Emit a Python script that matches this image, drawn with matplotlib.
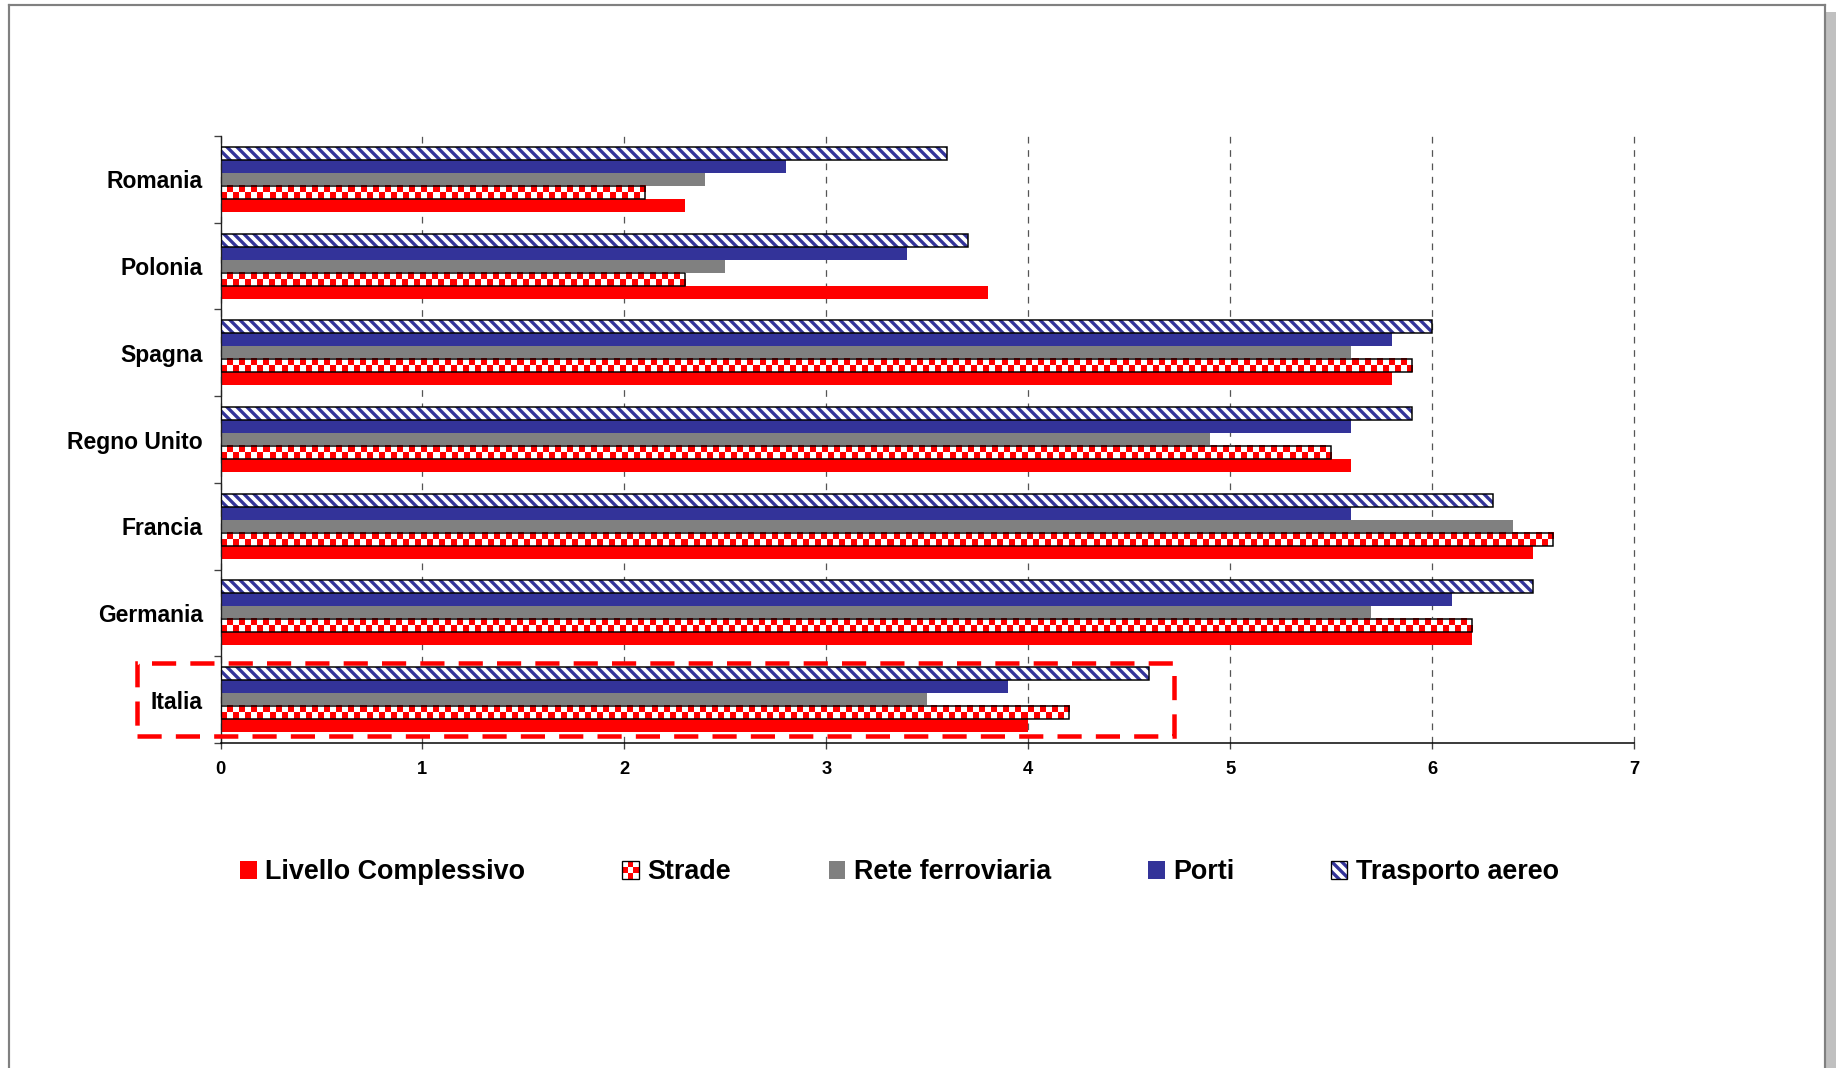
import numpy as np
import matplotlib
matplotlib.use("Agg")
import matplotlib.pyplot as plt
from matplotlib.patches import Rectangle
from matplotlib.lines import Line2D

# ---- data -------------------------------------------------------------
countries = ["Italia", "Germania", "Francia", "Regno Unito", "Spagna", "Polonia", "Romania"]
series_names = ["Livello Complessivo", "Strade", "Rete ferroviaria", "Porti", "Trasporto aereo"]
livello = [4.0, 6.2, 6.5, 5.6, 5.8, 3.8, 2.3]
strade = [4.2, 6.2, 6.6, 5.5, 5.9, 2.3, 2.1]
ferrovie = [3.5, 5.7, 6.4, 4.9, 5.6, 2.5, 2.4]
porti = [3.9, 6.1, 5.6, 5.6, 5.8, 3.4, 2.8]
aereo = [4.6, 6.5, 6.3, 5.9, 6.0, 3.7, 3.6]
x_ticks = [0, 1, 2, 3, 4, 5, 6, 7]

RED = "#FF0000"
NAVY = "#333399"
GREY = "#808080"
STRIPES = "\\" * 4

W, H = 1838, 1068
DPI = 120
plt.rcParams["font.family"] = ["Liberation Sans", "DejaVu Sans"]
plt.rcParams["font.weight"] = "bold"
plt.rcParams["hatch.linewidth"] = 2.0
plt.rcParams["lines.scale_dashes"] = False

fig = plt.figure(figsize=(W / DPI, H / DPI), dpi=DPI)
fig.patch.set_facecolor("white")


def fx(x):
    return x / W


def fy(y):
    return 1 - y / H


ax = fig.add_axes([fx(220.5), fy(743), fx(1634) - fx(220.5), fy(136) - fy(743)])

y = np.arange(len(countries))
bh = 0.15
offsets = [-0.30, -0.15, 0.0, 0.15, 0.30]

# solid bars
ax.barh(y + offsets[0], livello, height=bh, color=RED, linewidth=0, zorder=2)
ax.barh(y + offsets[2], ferrovie, height=bh, color=GREY, linewidth=0, zorder=2)
ax.barh(y + offsets[3], porti, height=bh, color=NAVY, linewidth=0, zorder=2)

# air transport: diagonal navy stripes on white, black outline
ax.barh(y + offsets[4], aereo, height=bh, color="white", edgecolor=NAVY,
        hatch=STRIPES, linewidth=0, zorder=2)
ax.barh(y + offsets[4], aereo, height=bh, facecolor="none", edgecolor="black",
        linewidth=0.9, zorder=3)

# roads: red/white checkerboard, black outline
cell = 0.03
red_rgb = np.array([1.0, 0.0, 0.0])
white_rgb = np.array([1.0, 1.0, 1.0])
for yi, v in zip(y + offsets[1], strade):
    ncol = max(1, int(round(v / cell)))
    rr, cc = np.indices((2, ncol))
    mask = ((rr + cc) % 2 == 0)[..., None]
    img = np.where(mask, red_rgb, white_rgb)
    ax.imshow(img, extent=(0, v, yi - bh / 2, yi + bh / 2), origin="lower",
              aspect="auto", interpolation="nearest", zorder=2.5)
ax.barh(y + offsets[1], strade, height=bh, facecolor="none", edgecolor="black",
        linewidth=0.9, zorder=3)

ax.set_xlim(0, 7)
ax.set_ylim(-0.5, len(countries) - 0.5)
ax.set_aspect("auto")

# axes styling
for s in ("top", "right"):
    ax.spines[s].set_visible(False)
ax.spines["left"].set_color("#202020")
ax.spines["left"].set_linewidth(0.8)
ax.spines["bottom"].set_color("black")
ax.spines["bottom"].set_linewidth(0.9)

ax.set_xticks(x_ticks)
ax.set_xticklabels([str(t) for t in x_ticks], fontsize=11, fontweight="bold")
ax.tick_params(axis="x", length=3.6, width=0.8, color="#404040", pad=7.2)

ax.set_yticks(np.arange(-0.5, len(countries), 1.0))
ax.set_yticklabels([])
ax.set_yticks(y, minor=True)
ax.set_yticklabels(countries, minor=True, fontsize=13.7, fontweight="bold")
ax.tick_params(axis="y", which="major", length=4.2, width=0.8, color="#404040")
ax.tick_params(axis="y", which="minor", length=0, pad=10.5)

ax.set_axisbelow(True)
ax.grid(axis="x", color="#555555", linewidth=0.75, linestyle=(0, (4, 4)))
ax.grid(axis="y", visible=False)
for gl in ax.get_xgridlines():
    gl.set_clip_on(False)

# ---- legend ------------------------------------------------------------
sq_top, sq_bot = 861, 879
sq_w = 16.5
leg_x = [240, 622, 829, 1148, 1331]


def fig_rect(x0, y0, x1, y1, **kw):
    r = Rectangle((fx(x0), fy(y1)), fx(x1) - fx(x0), fy(y0) - fy(y1),
                  transform=fig.transFigure, **kw)
    fig.add_artist(r)
    return r


for i, (name, lx) in enumerate(zip(series_names, leg_x)):
    x0, x1 = lx, lx + sq_w
    if i == 0:
        fig_rect(x0, sq_top, x1, sq_bot, facecolor=RED, linewidth=0)
    elif i == 1:
        nr, nc = 3, 3
        cw = (x1 - x0) / nc
        ch = (sq_bot - sq_top) / nr
        for r in range(nr):
            for c in range(nc):
                col = "white" if (r + c) % 2 == 0 else RED
                fig_rect(x0 + c * cw, sq_top + r * ch, x0 + (c + 1) * cw,
                         sq_top + (r + 1) * ch, facecolor=col, linewidth=0)
        fig_rect(x0, sq_top, x1, sq_bot, facecolor="none", edgecolor="black",
                 linewidth=0.8)
    elif i == 2:
        fig_rect(x0, sq_top, x1, sq_bot, facecolor=GREY, linewidth=0)
    elif i == 3:
        fig_rect(x0, sq_top, x1, sq_bot, facecolor=NAVY, linewidth=0)
    else:
        fig_rect(x0, sq_top, x1, sq_bot, facecolor="white", edgecolor=NAVY,
                 hatch=STRIPES, linewidth=0)
        fig_rect(x0, sq_top, x1, sq_bot, facecolor="none", edgecolor="black",
                 linewidth=0.8)
    fig.text(fx(lx + 25), fy(sq_bot), name, fontsize=16.1, fontweight="bold",
             ha="left", va="baseline", color="black")

# ---- highlight box around Italia ---------------------------------------
fig_rect(137, 663, 1174, 735.5, facecolor="none", edgecolor=RED,
         linewidth=2.7, linestyle=(0, (14.5, 8.5)), zorder=10)

# ---- page frame ----------------------------------------------------------
fig_rect(1826, 12, 1836, H + 5, facecolor="#C0C0C0", linewidth=0)
frame_kw = dict(color="#808080", linewidth=1.3, transform=fig.transFigure)
fig.add_artist(Line2D([fx(8.5), fx(1825)], [fy(5), fy(5)], **frame_kw))
fig.add_artist(Line2D([fx(8.5), fx(8.5)], [fy(5), fy(H + 5)], **frame_kw))
fig.add_artist(Line2D([fx(1825), fx(1825)], [fy(5), fy(H + 5)], **frame_kw))

fig.savefig("out.png", dpi=DPI, facecolor="white")
